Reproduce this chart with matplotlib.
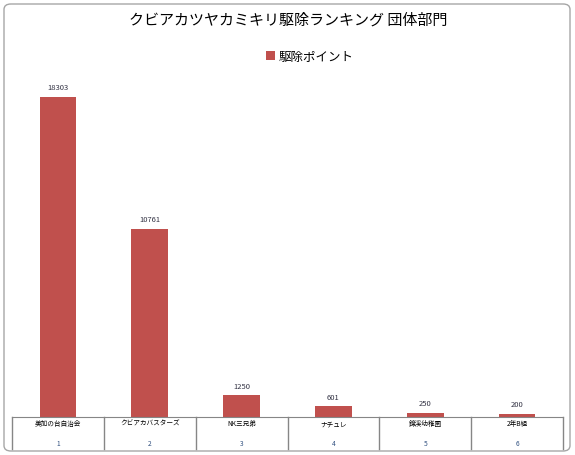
import matplotlib.pyplot as plt
from matplotlib.patches import FancyBboxPatch

plt.rcParams['font.family'] = ['Noto Sans CJK JP', 'DejaVu Sans']

# data
teams = ['美加の台自治会', 'クビアカバスターズ', 'NK三兄弟', 'ナチュレ', '錦渓幼稚園', '2年B組']
ranks = ['1', '2', '3', '4', '5', '6']
points = [18303, 10761, 1250, 601, 250, 200]

W, H = 575, 456
fig = plt.figure(figsize=(W / 100, H / 100), dpi=100)

# chart frame with rounded corners
frame = FancyBboxPatch((4 / W, 4 / H), 566 / W, 447 / H,
                       boxstyle='round,pad=0,rounding_size=0.012',
                       transform=fig.transFigure, facecolor='white',
                       edgecolor='#a6a6a6', linewidth=1.0, zorder=-1)
fig.patches.append(frame)

ax_bottom = 418
ax_h = 350
ax = fig.add_axes([12 / W, (H - ax_bottom) / H, 551 / W, ax_h / H])
ax.patch.set_alpha(0)

x = list(range(len(points)))
ax.bar(x, points, width=0.4, color='#C0504D', label='駆除ポイント', zorder=2)

for xi, v in zip(x, points):
    ax.annotate(str(v), (xi, v), xytext=(0, 4), textcoords='offset points',
                ha='center', va='bottom', fontsize=5.5, color='#333344')

ax.set_xlim(-0.5, len(points) - 0.5)
ax.set_ylim(0, 20000)
ax.set_xticks([])
ax.set_yticks([])
for s in ['top', 'left', 'right']:
    ax.spines[s].set_visible(False)
ax.spines['bottom'].set_color('#868686')

# two-level category table under the axis
tr = ax.get_xaxis_transform()
line_bot = -32 / ax_h
for b in [i - 0.5 for i in range(len(points) + 1)]:
    ax.plot([b, b], [0, line_bot], transform=tr, color='#868686',
            linewidth=1.0, clip_on=False)
for xi, name, r in zip(x, teams, ranks):
    ax.text(xi, -6 / ax_h, name, transform=tr, ha='center', va='center',
            fontsize=4.8, color='black')
    ax.text(xi, -26 / ax_h, r, transform=tr, ha='center', va='center',
            fontsize=4.8, color='#2f4f7f')

fig.text(288 / W, 1 - 20 / H, 'クビアカツヤカミキリ駆除ランキング 団体部門',
         ha='center', va='center', fontsize=10.8, color='black')

leg = fig.legend(loc='center', bbox_to_anchor=(310 / W, 1 - 57 / H),
                 frameon=False, fontsize=9, handlelength=0.7,
                 handleheight=0.7, handletextpad=0.3)

fig.savefig('out.png', dpi=100)
